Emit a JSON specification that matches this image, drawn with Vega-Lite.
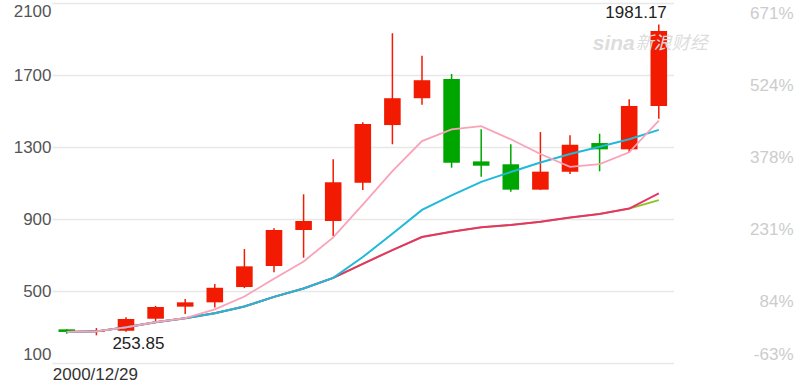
{
  "$schema": "https://vega.github.io/schema/vega-lite/v6.json",
  "width": 747,
  "height": 360,
  "autosize": {"type": "none"},
  "padding": {"left": 52, "top": 3, "right": 0, "bottom": 23},
  "background": "white",
  "config": {"view": {"stroke": null}, "font": "Liberation Sans"},
  "data": {
    "values": [
      {"date": "2000/12/29", "open": 287, "high": 288, "low": 263, "close": 272.4, "ma5": 272.4, "ma10": 272.4, "ma20": 272.4, "ma30": 272.4},
      {"date": "2001/12/31", "open": 272, "high": 294, "low": 253.85, "close": 279, "ma5": 275.7, "ma10": 275.7, "ma20": 275.7, "ma30": 275.7},
      {"date": "2002/12/31", "open": 279, "high": 354, "low": 274, "close": 344, "ma5": 298.5, "ma10": 298.5, "ma20": 298.5, "ma30": 298.5},
      {"date": "2003/12/31", "open": 346, "high": 417, "low": 332, "close": 411, "ma5": 326.6, "ma10": 326.6, "ma20": 326.6, "ma30": 326.6},
      {"date": "2004/12/31", "open": 413, "high": 456, "low": 372, "close": 437, "ma5": 348.7, "ma10": 348.7, "ma20": 348.7, "ma30": 348.7},
      {"date": "2005/12/30", "open": 437, "high": 539, "low": 409, "close": 518, "ma5": 397.8, "ma10": 376.9, "ma20": 376.9, "ma30": 376.9},
      {"date": "2006/12/29", "open": 522, "high": 733, "low": 516, "close": 637, "ma5": 469.4, "ma10": 414.1, "ma20": 414.1, "ma30": 414.1},
      {"date": "2007/12/28", "open": 639, "high": 848, "low": 604, "close": 839, "ma5": 568.4, "ma10": 467.2, "ma20": 467.2, "ma30": 467.2},
      {"date": "2008/12/31", "open": 839, "high": 1037, "low": 685, "close": 889, "ma5": 664, "ma10": 514, "ma20": 514, "ma30": 514},
      {"date": "2009/12/31", "open": 889, "high": 1232, "low": 806, "close": 1104, "ma5": 797.4, "ma10": 573, "ma20": 573, "ma30": 573},
      {"date": "2010/12/31", "open": 1102, "high": 1437, "low": 1061, "close": 1428, "ma5": 979.4, "ma10": 688.7, "ma20": 650.8, "ma30": 650.8},
      {"date": "2011/12/30", "open": 1422, "high": 1932, "low": 1315, "close": 1571, "ma5": 1166.2, "ma10": 817.8, "ma20": 727.5, "ma30": 727.5},
      {"date": "2012/12/31", "open": 1571, "high": 1807, "low": 1535, "close": 1671, "ma5": 1332.6, "ma10": 950.5, "ma20": 800.1, "ma30": 800.1},
      {"date": "2013/12/31", "open": 1678, "high": 1706, "low": 1185, "close": 1213, "ma5": 1397.4, "ma10": 1030.7, "ma20": 829.6, "ma30": 829.6},
      {"date": "2014/12/31", "open": 1220, "high": 1398, "low": 1135, "close": 1196, "ma5": 1415.8, "ma10": 1106.6, "ma20": 854, "ma30": 854},
      {"date": "2015/12/31", "open": 1204, "high": 1315, "low": 1052, "close": 1063, "ma5": 1342.8, "ma10": 1161.1, "ma20": 867.1, "ma30": 867.1},
      {"date": "2016/12/30", "open": 1063, "high": 1383, "low": 1062, "close": 1163, "ma5": 1261.2, "ma10": 1213.7, "ma20": 884.4, "ma30": 884.4},
      {"date": "2017/12/29", "open": 1163, "high": 1365, "low": 1150, "close": 1313, "ma5": 1189.6, "ma10": 1261.1, "ma20": 908.2, "ma30": 908.2},
      {"date": "2018/12/28", "open": 1322, "high": 1374, "low": 1165, "close": 1287, "ma5": 1204.4, "ma10": 1300.9, "ma20": 928.2, "ma30": 928.2},
      {"date": "2019/12/31", "open": 1287, "high": 1565, "low": 1268, "close": 1528, "ma5": 1270.8, "ma10": 1343.3, "ma20": 958.2, "ma30": 958.2},
      {"date": "2020/12/31", "open": 1528, "high": 1981.17, "low": 1457, "close": 1944, "ma5": 1447, "ma10": 1394.9, "ma20": 1041.8, "ma30": 1005.1}
    ]
  },
  "layer": [
    {
      "mark": {"type": "rule", "strokeWidth": 1.5},
      "encoding": {
        "x": {
          "field": "date", "type": "ordinal", "sort": null,
          "scale": {"type": "band", "paddingInner": 0, "paddingOuter": 0, "range": [0, 621.6]},
          "axis": {"orient": "bottom", "values": ["2000/12/29"], "domain": false, "ticks": false, "tickSize": 0, "grid": false, "labelAlign": "left", "labelOffset": -14, "labelPadding": 3, "labelFontSize": 17, "labelColor": "#333333", "labelAngle": 0, "title": null}
        },
        "y": {
          "field": "low", "type": "quantitative",
          "scale": {"domain": [100, 2100], "nice": false, "zero": false},
          "axis": {"orient": "left", "values": [100, 500, 900, 1300, 1700, 2100], "format": "d", "grid": true, "gridColor": "#e8e8e8", "gridWidth": 1.5, "domain": false, "ticks": false, "tickSize": 0, "labelPadding": 1, "labelFontSize": 17, "labelColor": "#555555", "labelFlush": true, "title": null}
        },
        "y2": {"field": "high"},
        "color": {"condition": {"test": "datum.close >= datum.open", "value": "#F21A00"}, "value": "#00A600"}
      }
    },
    {
      "mark": {"type": "bar", "width": {"band": 0.56}},
      "encoding": {
        "x": {"field": "date", "type": "ordinal", "sort": null, "axis": null},
        "y": {
          "field": "open", "type": "quantitative",
          "axis": {"orient": "right", "values": [500, 900, 1300, 1700, 2100], "grid": false, "domain": false, "ticks": false, "tickSize": 0, "labelAlign": "right", "labelBaseline": "top", "labelOffset": 2, "labelPadding": -6, "labelFlush": false, "labelFontSize": 17, "labelColor": "#cccccc", "title": null,
            "labelExpr": "datum.value == 2100 ? '671%' : datum.value == 1700 ? '524%' : datum.value == 1300 ? '378%' : datum.value == 900 ? '231%' : '84%'"}
        },
        "y2": {"field": "close"},
        "color": {"condition": {"test": "datum.close >= datum.open", "value": "#F21A00"}, "value": "#00A600"}
      }
    },
    {
      "mark": {"type": "line", "color": "#8CC31E", "strokeWidth": 1.8},
      "encoding": {
        "x": {"field": "date", "type": "ordinal", "sort": null, "axis": null},
        "y": {"field": "ma30", "type": "quantitative", "axis": null}
      }
    },
    {
      "mark": {"type": "line", "color": "#E8336A", "strokeWidth": 2},
      "encoding": {
        "x": {"field": "date", "type": "ordinal", "sort": null, "axis": null},
        "y": {"field": "ma20", "type": "quantitative", "axis": null}
      }
    },
    {
      "mark": {"type": "line", "color": "#21B9D8", "strokeWidth": 2},
      "encoding": {
        "x": {"field": "date", "type": "ordinal", "sort": null, "axis": null},
        "y": {"field": "ma10", "type": "quantitative", "axis": null}
      }
    },
    {
      "mark": {"type": "line", "color": "#F9A2B8", "strokeWidth": 1.8},
      "encoding": {
        "x": {"field": "date", "type": "ordinal", "sort": null, "axis": null},
        "y": {"field": "ma5", "type": "quantitative", "axis": null}
      }
    },
    {
      "data": {"values": [{"date": "2020/12/31", "price": 1981.17, "label": "1981.17"}]},
      "mark": {"type": "text", "align": "right", "baseline": "alphabetic", "dx": 8, "dy": -6, "fontSize": 17, "color": "#222222"},
      "encoding": {
        "x": {"field": "date", "type": "ordinal", "axis": null},
        "y": {"field": "price", "type": "quantitative",
          "axis": {"orient": "right", "values": [100], "grid": false, "domain": false, "ticks": false, "tickSize": 0, "labelAlign": "right", "labelBaseline": "bottom", "labelPadding": -6, "labelFlush": false, "labelFontSize": 17, "labelColor": "#cccccc", "title": null, "labelExpr": "'-63%'"}},
        "text": {"field": "label"}
      }
    },
    {
      "data": {"values": [{"date": "2001/12/31", "price": 253.85, "label": "253.85"}]},
      "mark": {"type": "text", "align": "left", "baseline": "top", "dx": 16, "dy": 1, "fontSize": 17, "color": "#222222"},
      "encoding": {
        "x": {"field": "date", "type": "ordinal", "axis": null},
        "y": {"field": "price", "type": "quantitative", "axis": null},
        "text": {"field": "label"}
      }
    },
    {
      "data": {"values": [{"date": "2020/12/31", "price": 1872, "label": "sina"}]},
      "mark": {"type": "text", "align": "right", "baseline": "middle", "dx": -24, "fontSize": 21, "fontWeight": "bold", "fontStyle": "italic", "color": "#dddddd"},
      "encoding": {
        "x": {"field": "date", "type": "ordinal", "axis": null},
        "y": {"field": "price", "type": "quantitative", "axis": null},
        "text": {"field": "label"}
      }
    },
    {
      "data": {"values": [{"date": "2020/12/31", "price": 1872, "label": "新浪财经"}]},
      "mark": {"type": "text", "align": "left", "baseline": "middle", "dx": -23, "fontSize": 18, "fontStyle": "italic", "font": "Noto Sans CJK SC", "color": "#dddddd"},
      "encoding": {
        "x": {"field": "date", "type": "ordinal", "axis": null},
        "y": {"field": "price", "type": "quantitative", "axis": null},
        "text": {"field": "label"}
      }
    }
  ],
  "resolve": {"axis": {"x": "independent", "y": "independent"}}
}
